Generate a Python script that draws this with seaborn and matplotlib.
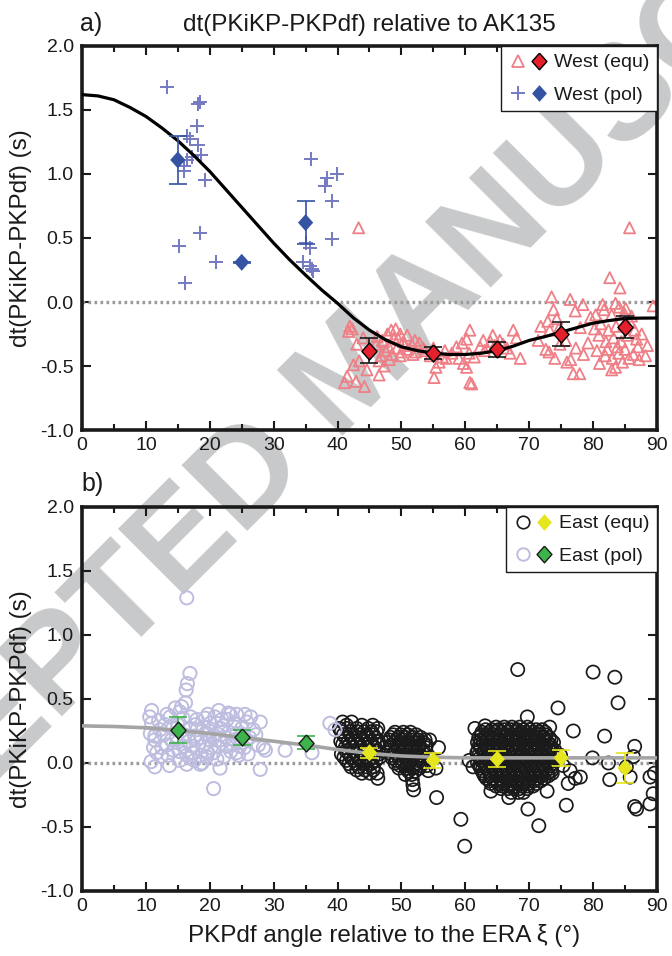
import matplotlib
matplotlib.use("Agg")
import matplotlib.pyplot as plt
import seaborn as sns
import numpy as np
import pandas as pd
from matplotlib.lines import Line2D
from matplotlib.legend_handler import HandlerTuple
from matplotlib.ticker import MultipleLocator

# ---------------- data ----------------
# Panel a: West (equ) individual measurements (x = xi deg, y = dt s)
west_equ_pts = [
    (43.3, 0.58), (41.9, -0.19), (41.7, -0.23), (42.3, -0.21), (43.0, -0.33), (44.0, -0.28),
    (42.5, -0.49), (43.4, -0.46), (41.1, -0.63), (42.9, -0.62), (44.2, -0.66), (41.5, -0.58),
    (44.6, -0.53), (46.5, -0.57), (47.3, -0.50), (48.1, -0.45), (46.8, -0.42), (48.4, -0.22),
    (49.1, -0.21), (48.8, -0.28), (49.8, -0.25), (50.9, -0.26), (52.1, -0.30), (50.3, -0.31),
    (49.3, -0.36), (48.0, -0.35), (47.5, -0.38), (48.5, -0.41), (49.8, -0.42), (51.0, -0.37),
    (50.5, -0.34), (47.0, -0.30), (46.2, -0.27), (47.8, -0.25), (46.0, -0.33), (46.5, -0.46),
    (47.2, -0.31), (51.6, -0.33), (52.8, -0.32), (53.4, -0.36), (52.2, -0.39), (53.7, -0.38),
    (49.5, -0.29), (50.0, -0.39), (51.8, -0.41), (55.1, -0.59), (55.4, -0.51), (55.9, -0.47),
    (56.4, -0.43), (57.9, -0.40), (55.0, -0.36), (54.5, -0.42), (56.8, -0.38), (58.6, -0.35),
    (59.5, -0.32), (60.7, -0.22), (60.2, -0.29), (59.7, -0.48), (60.2, -0.51), (60.7, -0.63),
    (61.0, -0.64), (59.0, -0.44), (57.0, -0.44), (60.6, -0.40), (61.4, -0.43), (63.0, -0.38),
    (64.3, -0.26), (64.6, -0.34), (65.4, -0.30), (65.9, -0.33), (67.5, -0.22), (68.0, -0.28),
    (68.6, -0.44), (67.0, -0.40), (62.3, -0.35), (66.5, -0.36), (62.8, -0.30), (63.9, -0.31),
    (73.5, 0.04), (73.8, -0.06), (76.4, 0.02), (74.3, -0.13), (77.2, -0.07), (78.4, -0.02),
    (72.9, -0.15), (73.2, -0.22), (71.8, -0.19), (72.6, -0.37), (73.1, -0.39), (74.0, -0.44),
    (75.9, -0.47), (76.9, -0.56), (77.9, -0.56), (76.5, -0.45), (74.8, -0.33), (75.7, -0.30),
    (77.3, -0.36), (78.5, -0.41), (79.2, -0.32), (78.0, -0.20), (79.6, -0.12), (71.4, -0.30),
    (74.6, -0.21), (82.6, 0.19), (84.2, 0.11), (83.5, -0.01), (84.1, -0.04), (82.9, -0.10),
    (81.7, -0.06), (85.1, -0.05), (86.0, -0.11), (80.4, -0.10), (81.2, -0.17), (82.4, -0.22),
    (83.6, -0.19), (84.8, -0.18), (85.8, -0.16), (80.9, -0.26), (82.0, -0.31), (83.2, -0.28),
    (84.4, -0.31), (85.3, -0.26), (86.8, -0.29), (80.6, -0.38), (81.9, -0.42), (83.0, -0.44),
    (84.0, -0.40), (85.0, -0.37), (86.3, -0.41), (88.2, -0.42), (87.6, -0.25), (82.9, -0.53),
    (83.5, -0.51), (81.0, -0.48), (84.6, -0.47), (89.4, -0.03), (85.7, 0.58), (87.0, -0.35),
    (88.5, -0.34), (80.2, -0.21), (86.5, -0.22), (84.9, -0.09), (83.8, -0.35), (82.2, -0.37),
    (85.6, -0.44), (87.2, -0.45), (81.5, -0.02),
]
# Panel a: West (pol) individual measurements
west_pol_pts = [
    (13.3, 1.68), (18.2, 1.55), (18.5, 1.565), (18.0, 1.375), (16.4, 1.30), (16.9, 1.27),
    (18.2, 1.23), (18.6, 1.15), (16.4, 1.11), (15.9, 1.06), (17.2, 1.13), (16.0, 1.02),
    (19.2, 0.95), (18.5, 0.54), (15.2, 0.44), (21.0, 0.31), (16.2, 0.15), (35.9, 1.12),
    (38.3, 0.97), (38.0, 0.91), (39.9, 1.00), (39.2, 0.79), (39.2, 0.49), (35.1, 0.46),
    (35.7, 0.42), (34.6, 0.315), (35.7, 0.28), (36.2, 0.245), (36.0, 0.26),
]
# Panel a: binned means
west_pol_bin_x = [15, 25, 35]
west_pol_bin_y = [1.11, 0.31, 0.62]
west_pol_bin_err = [0.19, 0.005, 0.17]
west_equ_bin_x = [45, 55, 65, 75, 85]
west_equ_bin_y = [-0.38, -0.40, -0.37, -0.25, -0.195]
west_equ_bin_err = [0.10, 0.045, 0.06, 0.09, 0.085]
# Panel a: black model curve
curve_a_x = [0, 2.5, 5, 7.5, 10, 12.5, 15, 17.5, 20, 22.5, 25, 27.5, 30, 32.5, 35, 37.5, 40,
             42.5, 45, 47.5, 50, 52.5, 55, 57.5, 60, 62.5, 65, 67.5, 70, 72.5, 75, 77.5, 80,
             82.5, 85, 87.5, 90]
curve_a_y = [1.62, 1.61, 1.58, 1.52, 1.45, 1.36, 1.26, 1.145, 1.02, 0.88, 0.74, 0.60, 0.46,
             0.33, 0.21, 0.095, -0.01, -0.125, -0.22, -0.295, -0.35, -0.38, -0.40, -0.41,
             -0.41, -0.40, -0.38, -0.345, -0.30, -0.27, -0.235, -0.20, -0.165, -0.145,
             -0.128, -0.126, -0.125]

# Panel b: East (pol) individual measurements
east_pol_pts = [
    (16.4, 1.29), (16.9, 0.70), (16.5, 0.62), (16.3, 0.57), (16.2, 0.47), (15.6, 0.44),
    (10.9, 0.41), (13.3, 0.38), (14.6, 0.43), (15.3, 0.40), (21.4, 0.41), (22.9, 0.39),
    (24.2, 0.38), (25.5, 0.38), (25.8, 0.32), (27.9, 0.32), (18.0, 0.34), (19.3, 0.35),
    (20.1, 0.31), (16.9, 0.27), (10.9, 0.31), (10.7, 0.23), (11.4, 0.18), (11.2, 0.12),
    (11.7, 0.08), (11.4, -0.03), (13.3, 0.14), (14.3, 0.10), (15.9, 0.13), (16.4, 0.06),
    (15.3, 0.02), (16.4, -0.01), (18.0, 0.18), (19.0, 0.13), (20.0, 0.18), (21.1, 0.23),
    (22.1, 0.29), (21.6, 0.18), (22.7, 0.13), (20.6, 0.08), (19.5, 0.05), (18.5, -0.01),
    (21.1, 0.03), (21.6, -0.04), (20.6, -0.20), (24.2, 0.08), (24.7, 0.13), (23.7, 0.18),
    (24.5, 0.06), (27.6, 0.14), (27.9, -0.05), (28.4, 0.12), (28.7, 0.10), (31.8, 0.10),
    (36.0, 0.08), (38.8, 0.31), (39.6, 0.26), (13.8, 0.36), (12.2, 0.26), (14.8, 0.21),
    (17.4, 0.13), (18.5, 0.06), (16.9, 0.04), (22.7, 0.34), (26.8, 0.26), (25.8, 0.18),
    (24.2, 0.23), (18.0, 0.26), (19.5, 0.23), (13.5, 0.06), (11.4, 0.21), (12.0, 0.33),
    (10.6, 0.36), (12.8, 0.22), (13.0, 0.30), (15.0, 0.30), (17.0, 0.36), (17.6, 0.21),
    (19.0, 0.28), (20.8, 0.36), (21.7, 0.27), (23.0, 0.24), (23.3, 0.09), (22.2, 0.05),
    (20.2, 0.12), (17.3, 0.08), (14.9, 0.16), (12.4, 0.05), (10.8, 0.01), (13.7, -0.02),
    (19.7, 0.38), (26.4, 0.36), (23.8, 0.31), (25.0, 0.27), (18.8, 0.00), (16.0, 0.22),
    (14.2, 0.27), (15.8, 0.35), (17.8, 0.30), (18.6, 0.20), (19.9, 0.25), (20.6, 0.20),
    (21.3, 0.13), (22.5, 0.20), (23.5, 0.15), (24.8, 0.19), (25.4, 0.12), (26.2, 0.20),
    (16.8, 0.17), (15.2, 0.09), (14.0, 0.18), (12.5, 0.12), (19.7, 0.08), (21.9, 0.34),
    (23.2, 0.38), (26.0, 0.07), (17.6, 0.02), (27.2, 0.22),
]
# Panel b: East (equ) individual measurements
east_equ_pts = [
    # cluster near 40-47
    (40.8, 0.32), (42.2, 0.32), (40.3, 0.27), (41.5, 0.27), (43.0, 0.27), (44.8, 0.27),
    (46.3, 0.27), (40.9, 0.22), (42.0, 0.22), (43.4, 0.22), (44.5, 0.22), (45.6, 0.22),
    (40.5, 0.17), (41.7, 0.17), (42.8, 0.17), (43.9, 0.17), (45.1, 0.17), (46.4, 0.17),
    (41.2, 0.12), (42.3, 0.12), (43.5, 0.12), (44.6, 0.12), (45.8, 0.12), (40.6, 0.07),
    (41.8, 0.07), (42.9, 0.07), (44.0, 0.07), (45.2, 0.07), (46.5, 0.07), (41.4, 0.02),
    (42.6, 0.02), (43.7, 0.02), (44.9, 0.02), (46.0, 0.02), (42.1, -0.03), (43.3, -0.03),
    (44.5, -0.03), (45.6, -0.03), (43.8, -0.08), (45.1, -0.08), (46.2, -0.08), (46.3, -0.12),
    (41.4, 0.295), (43.8, 0.295), (45.5, 0.295), (40.6, 0.245), (41.9, 0.245), (43.1, 0.245),
    (44.2, 0.245), (45.3, 0.245), (46.1, 0.245), (41.3, 0.195), (42.4, 0.195), (43.6, 0.195),
    (44.8, 0.195), (45.9, 0.195), (40.8, 0.145), (41.9, 0.145), (43.0, 0.145), (44.2, 0.145),
    (45.4, 0.145), (46.3, 0.145), (41.3, 0.095), (42.4, 0.095), (43.5, 0.095), (44.7, 0.095),
    (45.9, 0.095), (41.0, 0.045), (42.1, 0.045), (43.2, 0.045), (44.4, 0.045), (45.6, 0.045),
    (46.6, 0.045), (41.8, -0.005), (43.0, -0.005), (44.2, -0.005), (45.3, -0.005),
    (43.0, -0.055), (44.3, -0.055), (45.6, -0.055),
    # cluster near 48-55
    (49.0, 0.24), (50.3, 0.24), (51.4, 0.24), (48.3, 0.20), (49.5, 0.20), (50.6, 0.20),
    (51.8, 0.20), (53.0, 0.20), (54.4, 0.18), (47.8, 0.16), (48.9, 0.16), (50.0, 0.16),
    (51.1, 0.16), (52.3, 0.16), (53.4, 0.16), (48.3, 0.12), (49.4, 0.12), (50.5, 0.12),
    (51.6, 0.12), (52.7, 0.12), (53.8, 0.12), (47.9, 0.08), (49.0, 0.08), (50.1, 0.08),
    (51.2, 0.08), (52.3, 0.08), (53.3, 0.08), (48.5, 0.04), (49.6, 0.04), (50.7, 0.04),
    (51.8, 0.04), (52.9, 0.04), (49.0, 0.00), (50.1, 0.00), (51.2, 0.00), (52.3, 0.00),
    (53.5, 0.00), (49.6, -0.04), (50.7, -0.04), (51.8, -0.04), (52.8, -0.04), (50.6, -0.09),
    (51.6, -0.09), (51.7, -0.13), (51.8, -0.17), (51.9, -0.21), (54.6, 0.03), (55.4, -0.04),
    (55.5, -0.27), (54.0, -0.02), (55.8, 0.12), (54.2, -0.06),
    (48.7, 0.22), (49.9, 0.22), (51.0, 0.22), (52.3, 0.22), (48.1, 0.18), (49.2, 0.18),
    (50.3, 0.18), (51.5, 0.18), (52.6, 0.18), (53.7, 0.18), (48.4, 0.14), (49.5, 0.14),
    (50.6, 0.14), (51.7, 0.14), (52.8, 0.14), (53.9, 0.14), (48.0, 0.10), (49.1, 0.10),
    (50.2, 0.10), (51.3, 0.10), (52.4, 0.10), (53.4, 0.10), (48.6, 0.06), (49.7, 0.06),
    (50.8, 0.06), (51.9, 0.06), (53.0, 0.06), (49.2, 0.02), (50.3, 0.02), (51.4, 0.02),
    (52.5, 0.02), (49.8, -0.02), (50.9, -0.02), (52.0, -0.02), (53.0, -0.02), (51.1, -0.065),
    (52.1, -0.065),
    # dense cluster near 61-74
    (64.8, 0.28), (66.1, 0.28), (67.3, 0.28), (68.5, 0.28), (69.7, 0.28),
    (63.2, 0.26), (64.2, 0.26), (65.2, 0.26), (66.1, 0.26), (67.2, 0.26), (68.1, 0.26),
    (69.1, 0.26), (70.1, 0.26), (71.1, 0.26), (72.0, 0.26),
    (62.6, 0.24), (63.7, 0.24), (64.6, 0.24), (65.7, 0.24), (66.6, 0.24), (67.8, 0.24),
    (68.7, 0.24), (69.5, 0.24), (70.7, 0.24), (71.6, 0.24), (72.5, 0.24),
    (62.5, 0.22), (63.6, 0.22), (64.5, 0.22), (65.5, 0.22), (66.6, 0.22), (67.5, 0.22),
    (68.5, 0.22), (69.6, 0.22), (70.5, 0.22), (71.5, 0.22), (72.6, 0.22),
    (62.1, 0.20), (63.2, 0.20), (64.1, 0.20), (65.0, 0.20), (66.2, 0.20), (67.1, 0.20),
    (68.0, 0.20), (69.2, 0.20), (70.1, 0.20), (71.0, 0.20), (72.2, 0.20), (73.1, 0.20),
    (62.4, 0.18), (63.4, 0.18), (64.5, 0.18), (65.4, 0.18), (66.4, 0.18), (67.5, 0.18),
    (68.4, 0.18), (69.4, 0.18), (70.5, 0.18), (71.4, 0.18), (72.4, 0.18), (73.4, 0.18),
    (61.9, 0.16), (62.8, 0.16), (63.9, 0.16), (65.0, 0.16), (65.8, 0.16), (66.9, 0.16),
    (68.0, 0.16), (68.8, 0.16), (69.9, 0.16), (71.0, 0.16), (71.8, 0.16), (72.9, 0.16),
    (73.8, 0.16),
    (62.2, 0.14), (63.2, 0.14), (64.3, 0.14), (65.2, 0.14), (66.2, 0.14), (67.3, 0.14),
    (68.2, 0.14), (69.2, 0.14), (70.3, 0.14), (71.2, 0.14), (72.2, 0.14), (73.3, 0.14),
    (62.4, 0.12), (63.5, 0.12), (64.3, 0.12), (65.4, 0.12), (66.5, 0.12), (67.3, 0.12),
    (68.4, 0.12), (69.5, 0.12), (70.3, 0.12), (71.4, 0.12), (72.5, 0.12), (73.4, 0.12),
    (62.0, 0.10), (63.0, 0.10), (64.1, 0.10), (65.0, 0.10), (66.0, 0.10), (67.1, 0.10),
    (68.0, 0.10), (69.0, 0.10), (70.1, 0.10), (71.0, 0.10), (72.0, 0.10), (73.1, 0.10),
    (74.0, 0.10),
    (61.8, 0.08), (62.9, 0.08), (63.8, 0.08), (64.7, 0.08), (65.9, 0.08), (66.8, 0.08),
    (67.7, 0.08), (68.9, 0.08), (69.8, 0.08), (70.7, 0.08), (71.9, 0.08), (72.8, 0.08),
    (73.9, 0.08),
    (62.1, 0.06), (63.1, 0.06), (64.2, 0.06), (65.1, 0.06), (66.1, 0.06), (67.2, 0.06),
    (68.1, 0.06), (69.1, 0.06), (70.2, 0.06), (71.1, 0.06), (72.1, 0.06), (73.2, 0.06),
    (62.3, 0.04), (63.2, 0.04), (64.4, 0.04), (65.3, 0.04), (66.2, 0.04), (67.4, 0.04),
    (68.3, 0.04), (69.2, 0.04), (70.4, 0.04), (71.3, 0.04), (72.2, 0.04), (73.3, 0.04),
    (74.2, 0.04),
    (62.5, 0.02), (63.5, 0.02), (64.6, 0.02), (65.5, 0.02), (66.5, 0.02), (67.6, 0.02),
    (68.5, 0.02), (69.5, 0.02), (70.6, 0.02), (71.5, 0.02), (72.5, 0.02), (73.6, 0.02),
    (61.9, 0.00), (63.0, 0.00), (63.9, 0.00), (64.8, 0.00), (66.0, 0.00), (66.9, 0.00),
    (67.8, 0.00), (69.0, 0.00), (69.9, 0.00), (70.8, 0.00), (72.0, 0.00), (72.9, 0.00),
    (73.8, 0.00),
    (62.2, -0.02), (63.2, -0.02), (64.3, -0.02), (65.2, -0.02), (66.2, -0.02), (67.3, -0.02),
    (68.2, -0.02), (69.2, -0.02), (70.3, -0.02), (71.2, -0.02), (72.2, -0.02), (73.3, -0.02),
    (62.4, -0.04), (63.3, -0.04), (64.5, -0.04), (65.4, -0.04), (66.3, -0.04), (67.5, -0.04),
    (68.4, -0.04), (69.3, -0.04), (70.5, -0.04), (71.4, -0.04), (72.3, -0.04), (73.4, -0.04),
    (62.6, -0.06), (63.6, -0.06), (64.7, -0.06), (65.6, -0.06), (66.6, -0.06), (67.7, -0.06),
    (68.6, -0.06), (69.6, -0.06), (70.7, -0.06), (71.6, -0.06), (72.6, -0.06), (73.5, -0.06),
    (62.8, -0.08), (63.9, -0.08), (64.8, -0.08), (65.7, -0.08), (66.9, -0.08), (67.8, -0.08),
    (68.7, -0.08), (69.9, -0.08), (70.8, -0.08), (71.7, -0.08), (72.9, -0.08), (73.6, -0.08),
    (63.0, -0.10), (64.0, -0.10), (65.1, -0.10), (66.0, -0.10), (67.0, -0.10), (68.1, -0.10),
    (69.0, -0.10), (70.0, -0.10), (71.1, -0.10), (72.0, -0.10), (73.0, -0.10),
    (63.3, -0.12), (64.2, -0.12), (65.4, -0.12), (66.3, -0.12), (67.2, -0.12), (68.4, -0.12),
    (69.3, -0.12), (70.2, -0.12), (71.4, -0.12), (72.3, -0.12),
    (63.8, -0.14), (64.8, -0.14), (65.8, -0.14), (66.8, -0.14), (67.8, -0.14), (68.8, -0.14),
    (69.8, -0.14), (70.8, -0.14), (71.8, -0.14),
    (64.0, -0.16), (65.1, -0.16), (66.0, -0.16), (66.9, -0.16), (68.1, -0.16), (69.0, -0.16),
    (69.9, -0.16), (71.1, -0.16),
    (64.8, -0.18), (65.8, -0.18), (66.8, -0.18), (67.8, -0.18), (68.8, -0.18), (69.8, -0.18),
    (70.6, -0.18),
    (65.6, -0.20), (66.7, -0.20), (67.6, -0.20), (68.5, -0.20), (69.7, -0.20),
    (67.2, -0.23), (68.3, -0.23), (69.1, -0.23),
    # scattered
    (68.2, 0.73), (80.0, 0.71), (83.4, 0.67), (83.9, 0.47), (74.5, 0.43), (69.7, 0.36),
    (73.2, 0.28), (76.9, 0.25), (61.5, 0.27), (63.1, 0.29), (81.8, 0.21), (86.5, 0.13),
    (86.3, 0.05), (79.9, 0.04), (82.4, 0.00), (85.2, -0.03), (82.6, -0.13), (85.8, -0.11),
    (88.9, -0.11), (89.4, -0.24), (89.6, -0.08), (86.5, -0.34), (86.8, -0.36), (88.9, -0.32),
    (75.8, -0.33), (69.8, -0.36), (71.5, -0.49), (59.3, -0.44), (59.9, -0.65), (61.2, -0.03),
    (60.6, 0.02), (76.4, -0.06), (78.0, -0.11), (76.1, -0.16), (77.2, -0.12), (74.9, 0.06),
    (75.3, -0.02), (66.8, -0.27), (64.0, -0.22), (72.8, -0.22),
]
# Panel b: binned means
east_pol_bin_x = [15, 25, 35]
east_pol_bin_y = [0.26, 0.20, 0.16]
east_pol_bin_err = [0.10, 0.06, 0.05]
east_equ_bin_x = [45, 55, 65, 75, 85]
east_equ_bin_y = [0.08, 0.02, 0.03, 0.04, -0.04]
east_equ_bin_err = [0.04, 0.06, 0.06, 0.06, 0.12]
# Panel b: grey model curve
curve_b_x = [0, 5, 10, 15, 20, 25, 30, 35, 40, 45, 50, 55, 60, 65, 70, 75, 80, 85, 90]
curve_b_y = [0.29, 0.285, 0.275, 0.255, 0.23, 0.20, 0.17, 0.14, 0.105, 0.075, 0.055, 0.045,
             0.04, 0.04, 0.04, 0.04, 0.04, 0.04, 0.04]

legend_a = ["West (equ)", "West (pol)"]
legend_b = ["East (equ)", "East (pol)"]

# ---------------- style ----------------
sns.set_style("ticks")
plt.rcParams["font.family"] = ["Liberation Sans", "DejaVu Sans"]
plt.rcParams["axes.unicode_minus"] = False

C_TRI = "#ef7f86"
C_RED = "#e3202b"
C_PLUS = "#7479c2"
C_BLUE = "#3453a3"
C_LAV = "#bdbde0"
C_GREEN = "#3cb44b"
C_YEL = "#e6e61e"
C_GREY = "#a4a4a4"
INK = "#1a1a1a"
DIAM = [(0, 1.12), (1, 0), (0, -1.12), (-1, 0), (0, 1.12)]


def df(pts):
    return pd.DataFrame(pts, columns=["x", "y"])


fig = plt.figure(figsize=(6.72, 9.56), dpi=100)
fig.text(0.565, 0.582, "ACCEPTED MANUSCRIPT", rotation=45, rotation_mode="anchor",
         ha="center", va="baseline", fontsize=97, fontweight="bold",
         color="#c8c9ca", zorder=-5)

axA = fig.add_axes([0.122, 0.5502, 0.8557, 0.4017])
axB = fig.add_axes([0.122, 0.068, 0.8557, 0.4017])

for ax in (axA, axB):
    ax.patch.set_alpha(0)
    ax.axhline(0, color="#9a9a9a", lw=2.4, ls=(0, (0.8, 1.0)), zorder=1)

# ---- panel a ----
sns.scatterplot(data=df(west_equ_pts), x="x", y="y", ax=axA, marker="^", s=64,
                facecolors="none", edgecolor=C_TRI, linewidth=1.3, zorder=2, legend=False)
sns.scatterplot(data=df(west_pol_pts), x="x", y="y", ax=axA, marker="+", s=100,
                color=C_PLUS, linewidth=1.4, zorder=2, legend=False)
sns.lineplot(x=curve_a_x, y=curve_a_y, ax=axA, color="black", lw=2.3, zorder=3)
axA.errorbar(west_equ_bin_x, west_equ_bin_y, yerr=west_equ_bin_err, fmt="none",
             ecolor=INK, elinewidth=1.2, capsize=6.5, capthick=1.2, zorder=4)
sns.scatterplot(x=west_equ_bin_x, y=west_equ_bin_y, ax=axA, marker=DIAM, s=150,
                color=C_RED, edgecolor="black", linewidth=1.0, zorder=5, legend=False)
axA.errorbar(west_pol_bin_x, west_pol_bin_y, yerr=west_pol_bin_err, fmt="none",
             ecolor=C_BLUE, elinewidth=1.2, capsize=6.5, capthick=1.2, zorder=4)
sns.scatterplot(x=west_pol_bin_x, y=west_pol_bin_y, ax=axA, marker=DIAM, s=150,
                color=C_BLUE, edgecolor="none", linewidth=0, zorder=5, legend=False)

# ---- panel b ----
sns.scatterplot(data=df(east_equ_pts), x="x", y="y", ax=axB, marker="o", s=90,
                facecolors="none", edgecolor=INK, linewidth=1.25, zorder=2, legend=False)
sns.scatterplot(data=df(east_pol_pts), x="x", y="y", ax=axB, marker="o", s=90,
                facecolors="none", edgecolor=C_LAV, linewidth=1.4, zorder=2, legend=False)
sns.lineplot(x=curve_b_x, y=curve_b_y, ax=axB, color=C_GREY, lw=2.6, zorder=3)
axB.errorbar(east_pol_bin_x, east_pol_bin_y, yerr=east_pol_bin_err, fmt="none",
             ecolor=C_GREEN, elinewidth=1.2, capsize=6.5, capthick=1.2, zorder=4)
sns.scatterplot(x=east_pol_bin_x, y=east_pol_bin_y, ax=axB, marker=DIAM, s=150,
                color=C_GREEN, edgecolor=INK, linewidth=1.0, zorder=5, legend=False)
axB.errorbar(east_equ_bin_x, east_equ_bin_y, yerr=east_equ_bin_err, fmt="none",
             ecolor=C_YEL, elinewidth=1.2, capsize=6.5, capthick=1.2, zorder=4)
sns.scatterplot(x=east_equ_bin_x, y=east_equ_bin_y, ax=axB, marker=DIAM, s=150,
                color=C_YEL, edgecolor="none", linewidth=0, zorder=5, legend=False)

# ---- axes formatting ----
for ax in (axA, axB):
    ax.set_xlim(0, 90)
    ax.set_ylim(-1.0, 2.0)
    ax.xaxis.set_major_locator(MultipleLocator(10))
    ax.xaxis.set_minor_locator(MultipleLocator(5))
    ax.yaxis.set_major_locator(MultipleLocator(0.5))
    ax.yaxis.set_major_formatter(matplotlib.ticker.FormatStrFormatter("%.1f"))
    ax.tick_params(which="both", direction="in", top=True, right=True, width=1.5,
                   colors=INK, labelcolor=INK)
    ax.tick_params(which="major", length=6.5, labelsize=14)
    ax.tick_params(which="minor", length=4.2)
    ax.tick_params(axis="y", which="major", pad=6)
    ax.tick_params(axis="x", which="major", pad=5)
    for sp in ax.spines.values():
        sp.set_visible(True)
        sp.set_linewidth(2.6)
        sp.set_color(INK)
    ax.set_ylabel("dt(PKiKP-PKPdf) (s)", fontsize=17.5, color=INK)
    ax.yaxis.set_label_coords(-0.087, 0.5)
    ax.set_xlabel("")

axB.set_xlabel("PKPdf angle relative to the ERA ξ (°)", fontsize=17.5, color=INK)
axB.xaxis.set_label_coords(0.525, -0.085)

axA.set_title("dt(PKiKP-PKPdf) relative to AK135", fontsize=17.5, pad=11, color=INK)
fig.text(80 / 672, 1 - 31 / 956, "a)", fontsize=18, va="baseline", ha="left", color=INK)
fig.text(81 / 672, 1 - 491 / 956, "b)", fontsize=18, va="baseline", ha="left", color=INK)

# ---- legends ----
def make_leg(ax, pairs, labels):
    leg = ax.legend(pairs, labels, handler_map={tuple: HandlerTuple(ndivide=None, pad=0.15)},
                    loc="upper right", borderaxespad=0, frameon=True, fancybox=False,
                    edgecolor=INK, framealpha=1, fontsize=14, handlelength=2.0,
                    handletextpad=0.3, borderpad=0.4, labelspacing=0.75)
    leg.get_frame().set_linewidth(1.0)
    for t in leg.get_texts():
        t.set_color(INK)
    leg.set_zorder(10)


hA1 = (Line2D([], [], ls="none", marker="^", ms=8, mfc="none", mec=C_TRI, mew=1.3),
       Line2D([], [], ls="none", marker=DIAM, ms=12, mfc=C_RED, mec="black", mew=1.0))
hA2 = (Line2D([], [], ls="none", marker="+", ms=10, mec=C_PLUS, mew=1.4),
       Line2D([], [], ls="none", marker=DIAM, ms=12, mfc=C_BLUE, mec=C_BLUE, mew=0))
make_leg(axA, [hA1, hA2], legend_a)

hB1 = (Line2D([], [], ls="none", marker="o", ms=9, mfc="none", mec=INK, mew=1.2),
       Line2D([], [], ls="none", marker=DIAM, ms=12, mfc=C_YEL, mec=C_YEL, mew=0))
hB2 = (Line2D([], [], ls="none", marker="o", ms=9, mfc="none", mec=C_LAV, mew=1.4),
       Line2D([], [], ls="none", marker=DIAM, ms=12, mfc=C_GREEN, mec=INK, mew=1.0))
make_leg(axB, [hB1, hB2], legend_b)

fig.savefig("out.png", dpi=100)
